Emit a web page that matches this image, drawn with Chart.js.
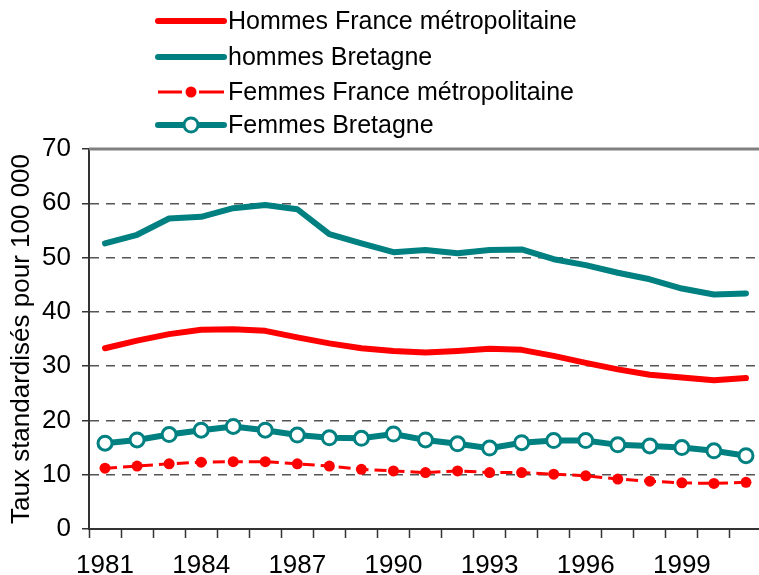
<!DOCTYPE html>
<html>
<head>
<meta charset="utf-8">
<script src="https://cdn.jsdelivr.net/npm/chart.js@4"></script>
<style>
  html, body { margin: 0; padding: 0; overflow: hidden; background: #fff; width: 759px; height: 575px; }
  #wrap { position: absolute; left: 0; top: 0; width: 772px; height: 575px; }
  canvas { display: block; }
</style>
</head>
<body>
<div id="wrap"><canvas id="c" width="772" height="575"></canvas></div>
<script>
const years = ['1981','1982','1983','1984','1985','1986','1987','1988','1989','1990','1991','1992','1993','1994','1995','1996','1997','1998','1999','2000','2001'];
const hommesFrance = [33.3,34.7,35.9,36.7,36.8,36.5,35.3,34.2,33.3,32.8,32.5,32.8,33.2,33.0,31.9,30.6,29.4,28.4,27.9,27.4,27.8];
const hommesBretagne = [52.6,54.2,57.2,57.5,59.1,59.7,58.9,54.3,52.6,51.0,51.4,50.8,51.4,51.5,49.7,48.6,47.2,46.0,44.3,43.2,43.4];
const femmesFrance = [11.2,11.6,12.0,12.3,12.4,12.4,12.0,11.6,11.0,10.7,10.4,10.7,10.4,10.4,10.1,9.8,9.2,8.8,8.5,8.4,8.6];
const femmesBretagne = [15.8,16.4,17.4,18.2,18.9,18.2,17.3,16.8,16.7,17.5,16.4,15.7,14.9,15.9,16.3,16.3,15.5,15.3,15.0,14.4,13.5];
const yTicks = [0,10,20,30,40,50,60,70];
const seriesNames = ['Hommes France métropolitaine','hommes Bretagne','Femmes France métropolitaine','Femmes Bretagne'];
const yTitle = 'Taux standardisés pour 100 000';

const RED = '#ff0000';
const TEAL = '#008080';
const FONT = "'Liberation Sans', Arial, sans-serif";

const legendPlugin = {
  id: 'customLegend',
  afterDraw(chart) {
    const ctx = chart.ctx;
    const rows = [21, 57, 92, 125];
    const x0 = 158, x1 = 224, xm = 191;
    ctx.save();
    ctx.lineCap = 'round';
    ctx.strokeStyle = RED; ctx.lineWidth = 6;
    ctx.beginPath(); ctx.moveTo(x0, rows[0]); ctx.lineTo(x1, rows[0]); ctx.stroke();
    ctx.strokeStyle = TEAL;
    ctx.beginPath(); ctx.moveTo(x0, rows[1]); ctx.lineTo(x1, rows[1]); ctx.stroke();
    ctx.lineCap = 'butt';
    ctx.strokeStyle = RED; ctx.lineWidth = 3;
    ctx.beginPath(); ctx.moveTo(x0, rows[2]); ctx.lineTo(x0 + 24, rows[2]); ctx.stroke();
    ctx.beginPath(); ctx.moveTo(x1 - 25, rows[2]); ctx.lineTo(x1, rows[2]); ctx.stroke();
    ctx.fillStyle = RED;
    ctx.beginPath(); ctx.arc(xm, rows[2], 5.5, 0, Math.PI * 2); ctx.fill();
    ctx.lineCap = 'round';
    ctx.strokeStyle = TEAL; ctx.lineWidth = 6;
    ctx.beginPath(); ctx.moveTo(x0, rows[3]); ctx.lineTo(x1, rows[3]); ctx.stroke();
    ctx.fillStyle = '#fff'; ctx.lineWidth = 3;
    ctx.beginPath(); ctx.arc(xm, rows[3], 7, 0, Math.PI * 2); ctx.fill(); ctx.stroke();
    ctx.fillStyle = '#000';
    ctx.font = '25px ' + FONT;
    ctx.textBaseline = 'middle';
    ctx.textAlign = 'left';
    seriesNames.forEach((n, i) => ctx.fillText(n, 228, rows[i] + 1));
    ctx.restore();
  }
};

const topLinePlugin = {
  id: 'topLine',
  afterDatasetsDraw(chart) {
    const a = chart.chartArea, ctx = chart.ctx;
    ctx.save();
    ctx.strokeStyle = '#808080';
    ctx.lineWidth = 3;
    ctx.beginPath(); ctx.moveTo(a.left, a.top); ctx.lineTo(a.right, a.top); ctx.stroke();
    ctx.restore();
  }
};

new Chart(document.getElementById('c'), {
  type: 'line',
  data: {
    labels: years,
    datasets: [
      { label: seriesNames[3], data: femmesBretagne, borderColor: TEAL, borderWidth: 6,
        pointRadius: 7, pointBackgroundColor: '#fff', pointBorderColor: TEAL, pointBorderWidth: 3, tension: 0 },
      { label: seriesNames[2], data: femmesFrance, borderColor: RED, borderWidth: 3, borderDash: [12, 6],
        pointRadius: 5.5, pointBackgroundColor: RED, pointBorderWidth: 0, tension: 0 },
      { label: seriesNames[1], data: hommesBretagne, borderColor: TEAL, borderWidth: 6, pointRadius: 0,
        borderCapStyle: 'round', borderJoinStyle: 'round', tension: 0 },
      { label: seriesNames[0], data: hommesFrance, borderColor: RED, borderWidth: 6, pointRadius: 0,
        borderCapStyle: 'round', borderJoinStyle: 'round', tension: 0 }
    ]
  },
  options: {
    responsive: false,
    devicePixelRatio: 1,
    animation: false,
    layout: { padding: { top: 149, left: 0, right: 3, bottom: 0 } },
    plugins: { legend: { display: false }, tooltip: { enabled: false } },
    scales: {
      x: {
        type: 'category',
        offset: true,
        afterFit: (s) => { s.height = 46; },
        grid: { offset: true, drawOnChartArea: false, drawTicks: true, tickLength: 9, tickColor: '#333', tickWidth: 1.5 },
        border: { display: true, color: '#333', width: 2 },
        ticks: {
          autoSkip: false, maxRotation: 0, minRotation: 0, padding: 12,
          color: '#000', font: { family: FONT, size: 26 },
          callback: function(v, i) { const y = parseInt(years[i], 10); return (y - 1981) % 3 === 0 ? years[i] : ''; }
        }
      },
      y: {
        min: 0, max: 70,
        afterBuildTicks: (s) => { s.ticks = yTicks.map(v => ({ value: v })); },
        afterFit: (s) => { s.width = 89; },
        grid: {
          color: (c) => (c.tick && (c.tick.value === 0 || c.tick.value === 70)) ? 'rgba(0,0,0,0)' : '#555',
          lineWidth: 1.5, drawTicks: true, tickLength: 7, tickColor: '#333', tickWidth: 1.5, tickBorderDash: []
        },
        border: { display: true, color: '#333', width: 2, dash: [9, 7] },
        ticks: { color: '#000', padding: 11, font: { family: FONT, size: 26 } },
        title: { display: true, text: yTitle, color: '#000', font: { family: FONT, size: 26 }, padding: { top: 6, bottom: 0 } }
      }
    }
  },
  plugins: [legendPlugin, topLinePlugin]
});
</script>
</body>
</html>
